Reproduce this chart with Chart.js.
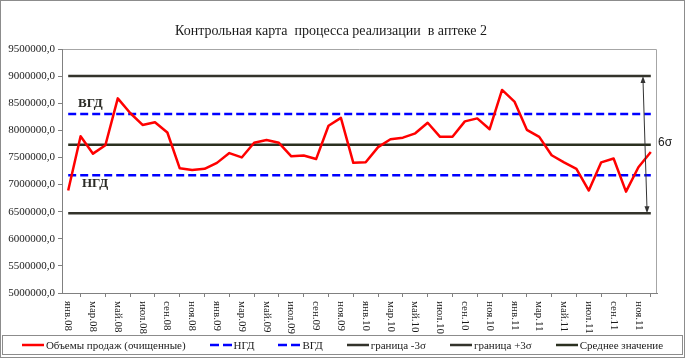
<!DOCTYPE html>
<html lang="ru">
<head>
<meta charset="utf-8">
<title>Контрольная карта процесса реализации в аптеке 2</title>
<script src="https://cdn.jsdelivr.net/npm/chart.js@4.4.1/dist/chart.umd.min.js"></script>
<style>
    html, body { margin: 0; padding: 0; background: #fff; }
    #wrap { position: relative; width: 686px; height: 359px; overflow: hidden; }
    #chart { display: block; }
    #legend {
        position: absolute; left: 2px; top: 335px; width: 681px; height: 20px;
        box-sizing: border-box; border: 1px solid #8c8c8c;
        display: flex; justify-content: center; align-items: center; gap: 24px;
        font: 11px "Liberation Serif", "Times New Roman", serif; color: #1a1a1a;
        white-space: nowrap;
    }
    #legend .item { display: flex; align-items: center; }
    #legend svg { display: block; margin-right: 2px; }
</style>
</head>
<body>
<div id="wrap">
    <canvas id="chart" width="686" height="359"></canvas>
    <div id="legend"></div>
</div>
<script>
/**
 * ==============================
 * DATA
 * ==============================
 */
const monthNames = ["янв", "фев", "мар", "апр", "май", "июн", "июл", "авг", "сен", "окт", "ноя", "дек"];
const years = ["08", "09", "10", "11"];
const months = years.flatMap((y) => monthNames.map((m) => `${m}.${y}`));

// Объемы продаж (очищенные), янв.08 .. дек.11
const sales = [
    6890000, 7890000, 7570000, 7725000, 8590000, 8320000, 8100000, 8150000, 7960000, 7300000, 7270000, 7290000,
    7400000, 7580000, 7500000, 7770000, 7820000, 7770000, 7520000, 7535000, 7470000, 8085000, 8230000, 7400000,
    7410000, 7690000, 7835000, 7865000, 7945000, 8140000, 7880000, 7880000, 8165000, 8220000, 8020000, 8745000,
    8530000, 8010000, 7880000, 7540000, 7410000, 7290000, 6890000, 7410000, 7480000, 6870000, 7320000, 7600000,
];

// control levels
const meanLevel = 7735000;
const upperLimit = 9000000;   // граница +3σ
const lowerLimit = 6470000;   // граница -3σ
const upperTarget = 8300000;  // ВГД
const lowerTarget = 7170000;  // НГД

const yMin = 5000000;
const yMax = 9500000;
const yStep = 500000;

const title = "Контрольная карта  процесса реализации  в аптеке 2";

/**
 * ==============================
 * HELPERS
 * ==============================
 */
const SERIF = '"Liberation Serif", "Times New Roman", serif';
const SANS = '"Liberation Sans", Arial, sans-serif';

function level(v) {
    return months.map(() => v);
}

function lineSet(label, data, color, dash) {
    return {
        label,
        data,
        borderColor: color,
        backgroundColor: color,
        borderWidth: 2.5,
        borderDash: dash || [],
        borderJoinStyle: "round",
        pointRadius: 0,
        pointHoverRadius: 0,
        tension: 0,
        fill: false,
    };
}

// frame, title, rotated month labels and the text marks
const decorations = {
    id: "decorations",
    beforeDraw(chart) {
        const { ctx, chartArea: a } = chart;
        ctx.save();
        ctx.fillStyle = "#fff";
        ctx.fillRect(0, 0, chart.width, chart.height);
        ctx.strokeStyle = "#8c8c8c";
        ctx.lineWidth = 1;
        ctx.strokeRect(0.5, 0.5, chart.width - 2, chart.height - 2);
        ctx.strokeStyle = "#a6a6a6";
        ctx.beginPath();
        ctx.moveTo(a.left, a.top + 0.5);
        ctx.lineTo(a.right - 0.5, a.top + 0.5);
        ctx.lineTo(a.right - 0.5, a.bottom);
        ctx.stroke();
        ctx.restore();
    },
    afterDraw(chart) {
        const { ctx, chartArea: a } = chart;
        const x = chart.scales.x;
        const y = chart.scales.y;
        ctx.save();

        // title
        ctx.fillStyle = "#1a1a1a";
        ctx.font = `14px ${SERIF}`;
        ctx.textAlign = "center";
        ctx.textBaseline = "middle";
        ctx.fillText(title, 331, 31);

        // month labels, rotated clockwise
        ctx.font = `11px ${SERIF}`;
        ctx.textAlign = "left";
        x.ticks.forEach((t, i) => {
            ctx.save();
            ctx.translate(x.getPixelForTick(i), a.bottom + 8);
            ctx.rotate(Math.PI / 2);
            ctx.fillText(months[t.value], 0, 0);
            ctx.restore();
        });

        // ВГД / НГД marks
        ctx.fillStyle = "#2b2b26";
        ctx.font = `bold 13px ${SERIF}`;
        ctx.fillText("ВГД", a.left + 16, y.getPixelForValue(upperTarget) - 10);
        ctx.fillText("НГД", a.left + 20, y.getPixelForValue(lowerTarget) + 8);

        // 6σ double arrow
        const yTop = y.getPixelForValue(upperLimit);
        const yBot = y.getPixelForValue(lowerLimit);
        const xTop = a.right - 14;
        const xBot = a.right - 10;
        ctx.strokeStyle = "#333";
        ctx.fillStyle = "#333";
        ctx.lineWidth = 1;
        ctx.beginPath();
        ctx.moveTo(xTop, yTop + 4);
        ctx.lineTo(xBot, yBot - 4);
        ctx.stroke();
        ctx.beginPath();
        ctx.moveTo(xTop, yTop);
        ctx.lineTo(xTop - 2.5, yTop + 7);
        ctx.lineTo(xTop + 2.5, yTop + 7);
        ctx.closePath();
        ctx.fill();
        ctx.beginPath();
        ctx.moveTo(xBot, yBot);
        ctx.lineTo(xBot - 2.5, yBot - 7);
        ctx.lineTo(xBot + 2.5, yBot - 7);
        ctx.closePath();
        ctx.fill();

        ctx.fillStyle = "#1a1a1a";
        ctx.font = `12px ${SANS}`;
        ctx.textAlign = "left";
        ctx.fillText("6σ", a.right + 1, y.getPixelForValue(meanLevel) - 2);

        ctx.restore();
    },
};

/**
 * ==============================
 * CHART
 * ==============================
 */
const datasets = [
    lineSet("Объемы продаж (очищенные)", sales, "#ff0000"),
    lineSet("НГД", level(lowerTarget), "#0000ff", [8, 4]),
    lineSet("ВГД", level(upperTarget), "#0000ff", [8, 4]),
    lineSet("граница -3σ", level(lowerLimit), "#33332b"),
    lineSet("граница +3σ", level(upperLimit), "#33332b"),
    lineSet("Среднее значение", level(meanLevel), "#2b3020"),
];

const chart = new Chart(document.getElementById("chart"), {
    type: "line",
    data: { labels: months, datasets },
    options: {
        responsive: false,
        animation: false,
        events: [],
        layout: { padding: { top: 49, right: 29, bottom: 24, left: 0 } },
        plugins: {
            legend: { display: false },
            title: { display: false },
            tooltip: { enabled: false },
        },
        scales: {
            x: {
                offset: true,
                grid: { offset: true, drawOnChartArea: false, tickLength: 4, color: "#808080" },
                border: { color: "#808080" },
                ticks: { display: false, autoSkip: false },
                // tick marks every two months
                afterBuildTicks(scale) {
                    scale.ticks = scale.ticks.filter((t) => t.value % 2 === 0);
                },
                afterFit(scale) {
                    scale.height = 42;
                },
            },
            y: {
                min: yMin,
                max: yMax,
                grid: { drawOnChartArea: false, tickLength: 4, color: "#808080" },
                border: { color: "#808080" },
                ticks: {
                    stepSize: yStep,
                    padding: 3,
                    color: "#1a1a1a",
                    font: { family: SERIF, size: 11 },
                    callback: (v) => `${v},0`,
                },
                afterFit(scale) {
                    scale.width = 62;
                },
            },
        },
    },
    plugins: [decorations],
});

// HTML legend built from the datasets
(function () {
    const box = document.getElementById("legend");
    chart.data.datasets.forEach((ds) => {
        const item = document.createElement("span");
        item.className = "item";
        const dash = ds.borderDash.length ? ` stroke-dasharray="9,4"` : "";
        item.innerHTML =
            `<svg width="22" height="6"><line x1="0" y1="3" x2="22" y2="3" stroke="${ds.borderColor}" stroke-width="2.5"${dash}/></svg>`;
        const text = document.createElement("span");
        text.textContent = ds.label;
        item.appendChild(text);
        box.appendChild(item);
    });
})();
</script>
</body>
</html>
